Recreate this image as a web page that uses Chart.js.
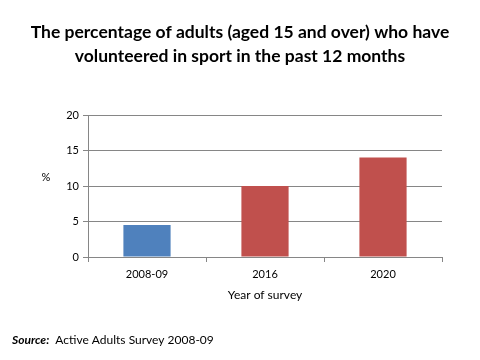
<!DOCTYPE html>
<html>
<head>
<meta charset="utf-8">
<script src="https://cdn.jsdelivr.net/npm/chart.js@4/dist/chart.umd.min.js"></script>
<style>
html,body{margin:0;padding:0;background:#fff;}
#wrap{width:480px;height:360px;}
</style>
</head>
<body>
<div id="wrap"><canvas id="c" width="480" height="360"></canvas></div>
<script>
const categories = ["2008-09", "2016", "2020"];
const values = [4.5, 10, 14];
const barColors = ["#4F81BD", "#C0504D", "#C0504D"];
const yTicks = [0, 5, 10, 15, 20];
const titleLines = ["The percentage of adults (aged 15 and over) who have", "volunteered in sport in the past 12 months"];
const xAxisTitle = "Year of survey";
const yAxisTitle = "%";
const sourceLabel = "Source:";
const sourceText = "Active Adults Survey 2008-09";

const FONT = "Lato, 'Open Sans', sans-serif";

const extras = {
  id: 'extras',
  afterDraw(chart) {
    const ctx = chart.ctx;
    const ca = chart.chartArea;
    ctx.save();
    ctx.fillStyle = '#000';
    ctx.textBaseline = 'middle';
    // title
    ctx.textAlign = 'center';
    ctx.font = "bold 17.5px " + FONT;
    ctx.fillText(titleLines[0], 240, 32);
    ctx.fillText(titleLines[1], 240, 56);
    // y title
    ctx.font = "11px " + FONT;
    ctx.fillText(yAxisTitle, 46, (ca.top + ca.bottom) / 2 - 9);
    // x title
    ctx.font = "12px " + FONT;
    ctx.fillText(xAxisTitle, (ca.left + ca.right) / 2, ca.bottom + 38);
    // source
    ctx.textAlign = 'left';
    ctx.font = "italic bold 12px " + FONT;
    ctx.fillText(sourceLabel, 12, 340);
    const w = ctx.measureText(sourceLabel).width;
    ctx.font = "12px " + FONT;
    ctx.fillText(sourceText, 12 + w + 6, 340);
    ctx.restore();
  }
};

new Chart(document.getElementById('c'), {
  type: 'bar',
  data: {
    labels: categories,
    datasets: [{
      data: values,
      backgroundColor: barColors,
      borderWidth: 0,
      categoryPercentage: 1.0,
      barPercentage: 0.4
    }]
  },
  options: {
    responsive: false,
    animation: false,
    layout: { padding: { left: 0, right: 38, top: 115, bottom: 0 } },
    plugins: {
      legend: { display: false },
      tooltip: { enabled: false },
      title: { display: false }
    },
    scales: {
      y: {
        min: 0, max: 20,
        afterBuildTicks(scale) { scale.ticks = yTicks.map(v => ({ value: v })); },
        afterFit(scale) { scale.width = 88; },
        grid: { color: '#868686', tickLength: 5, drawTicks: true },
        border: { color: '#868686' },
        ticks: { color: '#000', font: { family: FONT, size: 11 }, padding: 4 }
      },
      x: {
        afterFit(scale) { scale.height = 103; },
        grid: { offset: true, drawOnChartArea: false, drawTicks: true, tickLength: 5, color: '#868686' },
        border: { color: '#868686' },
        ticks: { color: '#000', font: { family: FONT, size: 11 }, padding: 6 }
      }
    }
  },
  plugins: [extras]
});
</script>
</body>
</html>
